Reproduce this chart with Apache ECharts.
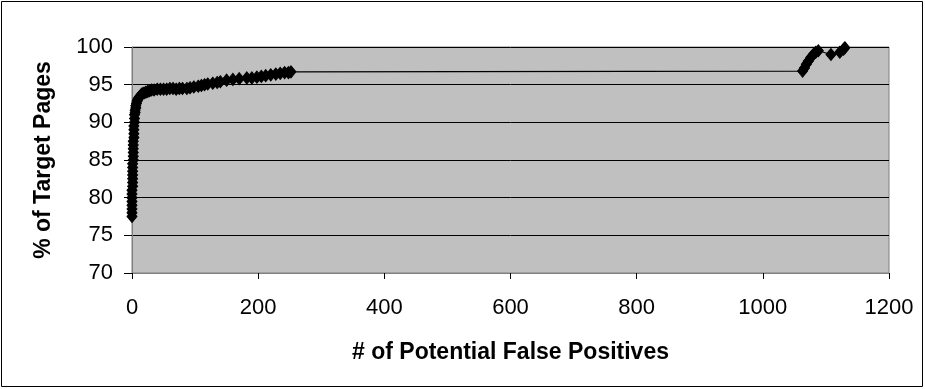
<!DOCTYPE html>
<html><head><meta charset="utf-8">
<script src="https://cdn.jsdelivr.net/npm/echarts@6/dist/echarts.min.js"></script>
<style>html,body{margin:0;padding:0;background:#fff}#c{width:925px;height:389px}</style>
</head><body><div id="c"></div>
<script>
const falsePositives = [0,0,0,0,0,0,0,0,1,1,1,1,1,1,1,2,2,2,2,2,2,3,3,3,3,4,4,4,5,5,6,6,7,8,9,10,12,14,16,19,22,25,28,31,35,40,45,50,55,60,65,70,75,80,87,92,98,105,110,115,120,128,135,140,150,160,170,182,190,198,205,212,220,228,235,242,248,252,1063,1066,1069,1072,1076,1080,1084,1088,1108,1122,1128,1130];
const targetPct = [77.5,78,78.5,79,79.5,80,80.5,81,81.5,82,82.5,83,83.5,84,84.5,85,85.5,86,86.5,87,87.5,88,88.5,89,89.5,90,90.5,91,91.3,91.6,91.9,92.2,92.5,92.8,93,93.2,93.4,93.6,93.8,93.9,94,94.1,94.2,94.3,94.3,94.4,94.4,94.4,94.4,94.5,94.5,94.4,94.5,94.5,94.5,94.6,94.7,94.8,94.9,95,95.1,95.2,95.3,95.4,95.6,95.7,95.8,95.9,95.9,96,96.1,96.2,96.3,96.4,96.5,96.6,96.6,96.7,96.8,97.2,97.7,98.1,98.6,99,99.3,99.5,99,99.3,99.7,99.9];
const yTicks = [70,75,80,85,90,95,100];
const xTicks = [0,200,400,600,800,1000,1200];
const xTitle = '# of Potential False Positives';
const yTitle = '% of Target Pages';

const chart = echarts.init(document.getElementById('c'));
const font = 'Liberation Sans, Arial, sans-serif';
chart.setOption({
  animation:false,
  backgroundColor:'#fff',
  graphic:[{type:'rect',shape:{x:1.5,y:1.5,width:921,height:385},style:{fill:'none',stroke:'#000',lineWidth:1},silent:true}],
  grid:{left:132,right:36,top:47,bottom:116,containLabel:false,outerBoundsMode:'none',show:true,backgroundColor:'#c0c0c0',borderColor:'#808080',borderWidth:1},
  xAxis:{type:'value',min:xTicks[0],max:xTicks[xTicks.length-1],interval:200,
    name:xTitle,nameLocation:'middle',nameGap:68,
    nameTextStyle:{fontFamily:font,fontSize:23,fontWeight:'bold',color:'#000'},
    axisLine:{show:true,lineStyle:{color:'#808080'}},axisTick:{show:true,length:6,lineStyle:{color:'#000'}},
    axisLabel:{fontFamily:font,fontSize:22,color:'#000',margin:24,formatter:v=>String(v)},splitLine:{show:false}},
  yAxis:{type:'value',min:yTicks[0],max:yTicks[yTicks.length-1],interval:5,
    name:yTitle,nameLocation:'middle',nameGap:77,nameRotate:90,
    nameTextStyle:{fontFamily:font,fontSize:23,fontWeight:'bold',color:'#000'},
    axisLine:{show:true,lineStyle:{color:'#808080'}},axisTick:{show:true,length:8,lineStyle:{color:'#000'}},
    axisLabel:{fontFamily:font,fontSize:22,color:'#000',margin:19,formatter:v=>String(v)},
    splitLine:{show:true,lineStyle:{color:'#000',width:1}}},
  series:[{type:'line',data:falsePositives.map((x,i)=>[x,targetPct[i]]),
    symbol:'diamond',symbolSize:[10,12],showAllSymbol:true,
    itemStyle:{color:'#000',borderColor:'#000'},lineStyle:{color:'#000',width:1.2}}]
});
</script></body></html>
